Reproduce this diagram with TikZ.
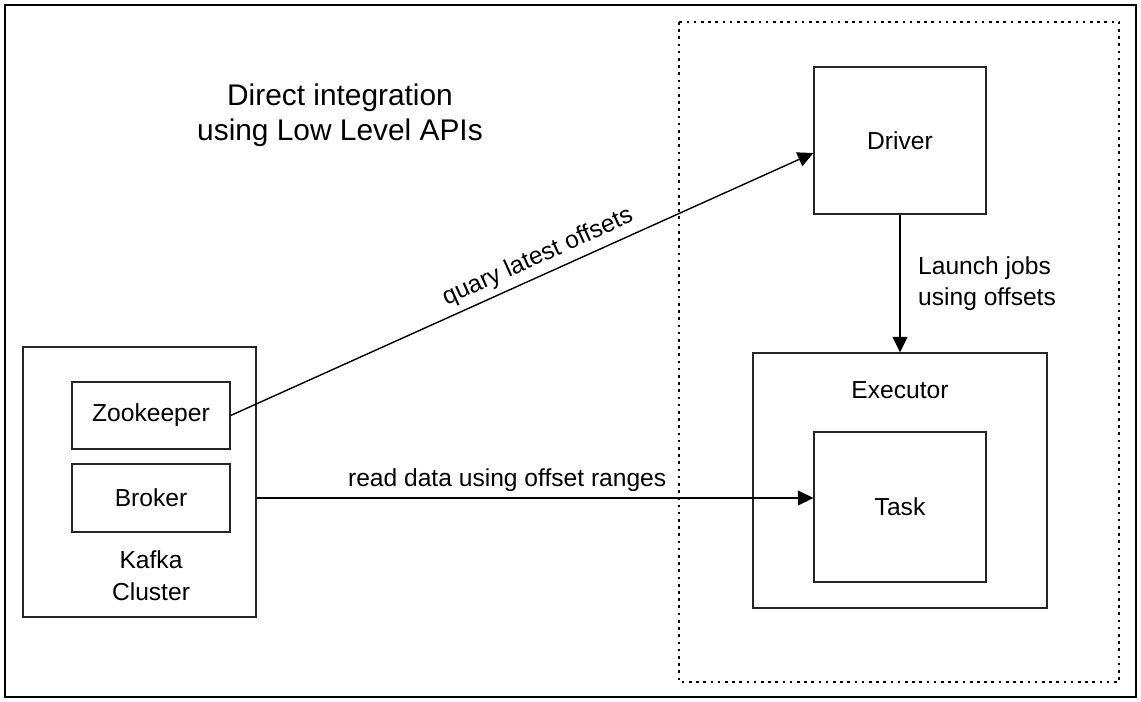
\documentclass[tikz,border=0pt]{standalone}
\usepackage{fontspec}
\setmainfont{Liberation Sans}
\usetikzlibrary{arrows.meta, positioning}
\tikzset{
    plainbox/.style={rectangle, draw=black!85, line width=0.8pt, align=center, font=\fontsize{14}{18.5}\selectfont},
    arrow/.style={-{Triangle[length=3.1mm,width=3mm]}, line width=0.8pt, black},
    link/.style={line width=0.8pt, black},
    labeltext/.style={font=\fontsize{14}{18}\selectfont, align=left},
}

\begin{document}
\begin{tikzpicture}[
  x=0.02cm, y=-0.02cm,
  frame/.style={draw, line width=1.3pt},
  sparkzone/.style={draw, line width=0.8pt, dash pattern={on 1.5pt off 2.6pt}},
  title/.style={align=center, font=\fontsize{17}{20}\selectfont}
]
\useasboundingbox (0,0) rectangle (1141,702);
\draw[frame] (5,5) rectangle (1136,697);

% Spark side
\draw[sparkzone] (679,22) rectangle (1119,682);
\node[plainbox,minimum width=34.4mm,minimum height=29.4mm] (dr) at (900,140.5) {Driver};
\node[plainbox,minimum width=58.8mm,minimum height=51mm] (ex) at (900,480.5) {};
\node[labeltext,align=center] (exname) at (900,390) {Executor};
\node[plainbox,minimum width=34.4mm,minimum height=30mm] (tk) at (900,507) {Task};

% Kafka side
\node[plainbox,minimum width=46.6mm,minimum height=54mm] (kc) at (139.5,482) {};
\node[plainbox,minimum width=31.6mm,minimum height=13.4mm] (zk) at (151,415.5) {Zookeeper};
\node[plainbox,minimum width=31.6mm,minimum height=13.6mm] (bk) at (151,498) {Broker};
\node[labeltext,align=center,below=2.4mm of bk] (kname) {Kafka\\Cluster};

\node[title] (ttl) at (340,115) {Direct integration\\using Low Level APIs};

% Connections
\draw[arrow] (zk.east) -- node[labeltext,sloped,above,pos=0.54] {quary latest offsets} ([yshift=-2.5mm]dr.west);
\draw[arrow] (kc.east |- bk) -- node[labeltext,above,pos=0.45] {read data using offset ranges} (tk.west |- bk);
\draw[arrow] (dr.south) -- node[labeltext,right,inner sep=3.5mm] {Launch jobs\\using offsets} (ex.north);
\end{tikzpicture}
\end{document}
